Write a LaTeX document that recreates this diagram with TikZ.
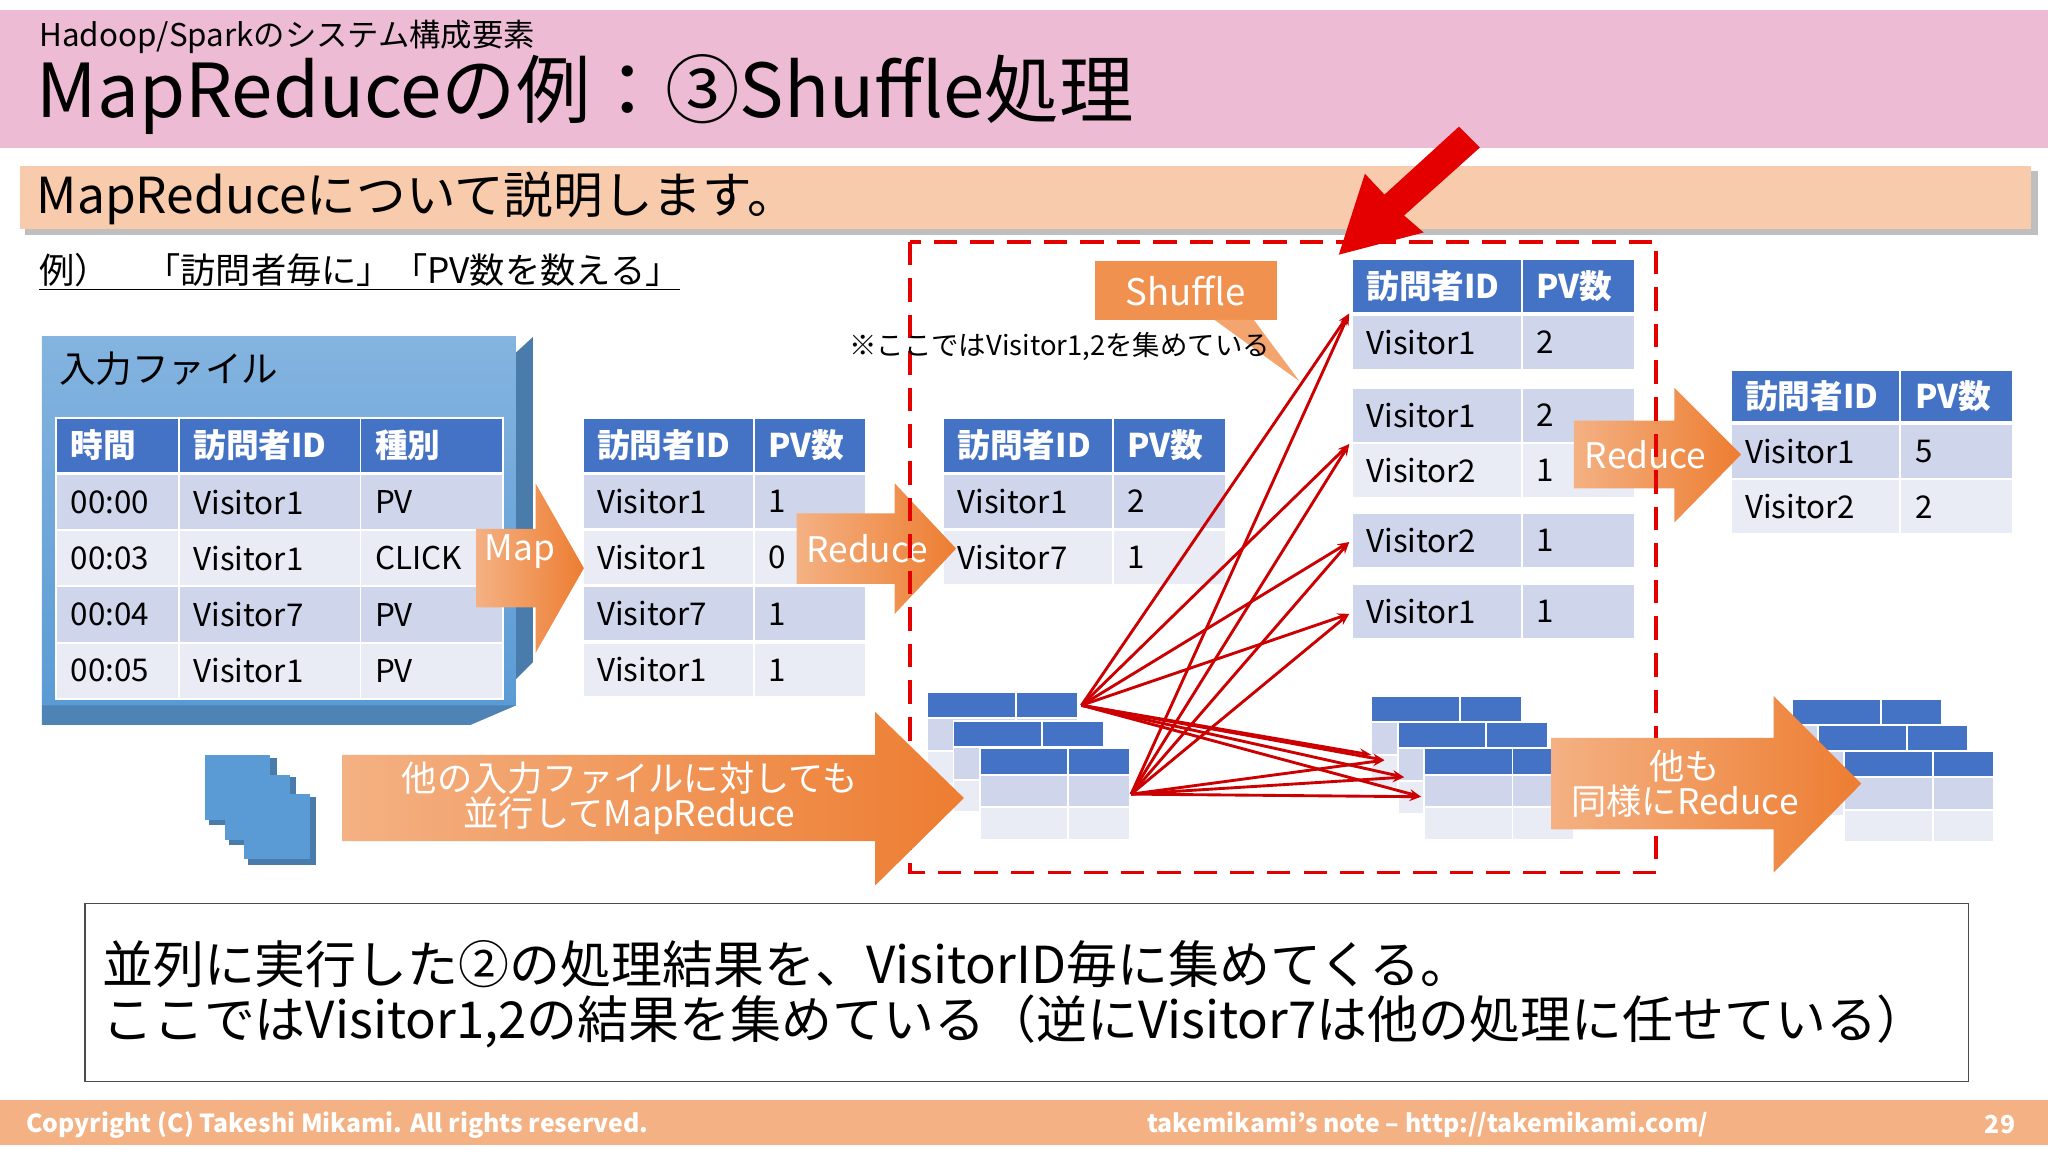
\documentclass[tikz,border=0pt]{standalone}
\usepackage{fontspec}
\setmainfont{Noto Sans CJK JP}
\usetikzlibrary{arrows.meta}
\definecolor{hdr}{HTML}{4472C4}
\definecolor{ra}{HTML}{CFD5EA}
\definecolor{rb}{HTML}{E9EBF5}
\definecolor{org}{HTML}{ED7D31}
\definecolor{pinkb}{HTML}{EDBBD3}
\definecolor{peach}{HTML}{F8CBAD}
\definecolor{foot}{HTML}{F4B183}
\definecolor{bl}{HTML}{5B9BD5}
\newcommand\fs[1]{\fontsize{#1}{#1}\selectfont}
\newcommand\cell[7]{\path[fill=#5,draw=white,line width=1.5pt] (#1,#2) rectangle ++(#3,#4);
 \path (#1,#2) ++(11,#4/2) node[anchor=west,inner sep=0pt,#6] {#7};}
\newcommand\hrow[6]{\cell{#1}{#2}{#3}{42}{hdr}{text=white,font=\fs{25}\bfseries}{#5}\cell{#1+#3}{#2}{#4}{42}{hdr}{text=white,font=\fs{25}\bfseries}{#6}}
\newcommand\brow[7]{\cell{#1}{#2}{#3}{42}{#5}{font=\fs{24}}{#6}\cell{#1+#3}{#2}{#4}{42}{#5}{font=\fs{24}}{#7}}
\newcommand\mini[2]{\fill[hdr] (#1,#2) rectangle ++(115,20);
 \fill[ra] (#1,#2+20) rectangle ++(115,25); \fill[rb] (#1,#2+45) rectangle ++(115,25);
 \draw[white,line width=1.5pt] (#1,#2) rectangle ++(115,70) (#1,#2+20)--++(115,0) (#1,#2+45)--++(115,0) (#1+68,#2)--++(0,70);}
\newcommand\oarrow[7]{% x0 yc hb xh ytop xtip ybot
 \shade[left color=foot,right color=org] (#1,#2-#3)--(#4,#2-#3)--(#4,#5)--(#6,#2)--(#4,#7)--(#4,#2+#3)--(#1,#2+#3)--cycle;}
\begin{document}
\begin{tikzpicture}[x=1pt,y=-1pt,redl/.style={draw=red!80!black,line width=2.2pt,-{Stealth[length=9pt]}}]
\useasboundingbox (0,0) rectangle (1568,882);
\fill[white] (0,0) rectangle (1568,882);
% header
\fill[pinkb] (0,8) rectangle (1568,113);
\node[anchor=west,inner sep=0pt,font=\fs{24}] (sub) at (30,28) {Hadoop/Sparkのシステム構成要素};
\node[anchor=west,inner sep=0pt,font=\fs{57}] (ttl) at (28,72) {MapReduceの例：③Shuffle処理};
\fill[gray!50] (19,131) rectangle (1560,180);
\fill[peach] (15,127) rectangle (1555,175);
\node[anchor=west,inner sep=0pt,font=\fs{38}] (bar) at (28,152) {MapReduceについて説明します。};
\node[anchor=west,inner sep=0pt,font=\fs{27}] (ex) at (30,208) {\underline{例）　「訪問者毎に」「PV数を数える」}};
% input file
\fill[bl!80!black] (360,555)--(408,507)--(408,258)--(395,270)--(395,540)--cycle;
\shade[top color=bl!75,bottom color=bl] (32,258) rectangle (395,540);
\fill[bl!85!black] (32,540)--(395,540)--(360,555)--(32,555)--cycle;
\node[anchor=west,inner sep=0pt,font=\fs{28}] (inp) at (45,282) {入力ファイル};
\cell{43}{320}{94}{42}{hdr}{text=white,font=\fs{25}\bfseries}{時間}
\cell{137}{320}{139}{42}{hdr}{text=white,font=\fs{25}\bfseries}{訪問者ID}
\cell{276}{320}{109}{42}{hdr}{text=white,font=\fs{25}\bfseries}{種別}
\cell{43}{363}{94}{43}{ra}{font=\fs{24}}{00:00}\cell{137}{363}{139}{43}{ra}{font=\fs{24}}{Visitor1}\cell{276}{363}{109}{43}{ra}{font=\fs{24}}{PV}
\cell{43}{406}{94}{43}{rb}{font=\fs{24}}{00:03}\cell{137}{406}{139}{43}{rb}{font=\fs{24}}{Visitor1}\cell{276}{406}{109}{43}{rb}{font=\fs{24}}{CLICK}
\cell{43}{449}{94}{43}{ra}{font=\fs{24}}{00:04}\cell{137}{449}{139}{43}{ra}{font=\fs{24}}{Visitor7}\cell{276}{449}{109}{43}{ra}{font=\fs{24}}{PV}
\cell{43}{492}{94}{43}{rb}{font=\fs{24}}{00:05}\cell{137}{492}{139}{43}{rb}{font=\fs{24}}{Visitor1}\cell{276}{492}{109}{43}{rb}{font=\fs{24}}{PV}
% table2
\hrow{446}{320}{131}{86}{訪問者ID}{PV数}
\brow{446}{363}{131}{86}{ra}{Visitor1}{1}
\brow{446}{406}{131}{86}{rb}{Visitor1}{0}
\brow{446}{449}{131}{86}{ra}{Visitor7}{1}
\brow{446}{492}{131}{86}{rb}{Visitor1}{1}
% map arrow
\oarrow{365}{435}{30}{410}{370}{447}{500}
\node[text=white,font=\fs{27}] (map) at (398,422) {Map};
% table3
\hrow{722}{320}{130}{87}{訪問者ID}{PV数}
\brow{722}{363}{130}{87}{ra}{Visitor1}{2}
\brow{722}{406}{130}{87}{rb}{Visitor7}{1}
\oarrow{610}{420}{27}{685}{370}{732}{470}
\node[text=white,font=\fs{27}] (red1) at (664,420) {Reduce};
% table4
\hrow{1035}{198}{130}{87}{訪問者ID}{PV数}
\brow{1035}{241}{130}{87}{ra}{Visitor1}{2}
\brow{1035}{297}{130}{87}{ra}{Visitor1}{2}
\brow{1035}{339}{130}{87}{rb}{Visitor2}{1}
\brow{1035}{393}{130}{87}{ra}{Visitor2}{1}
\brow{1035}{447}{130}{87}{ra}{Visitor1}{1}
% table5
\cell{1325}{283}{130}{40}{hdr}{text=white,font=\fs{25}\bfseries}{訪問者ID}\cell{1455}{283}{86}{40}{hdr}{text=white,font=\fs{25}\bfseries}{PV数}
\brow{1325}{325}{130}{86}{ra}{Visitor1}{5}
\brow{1325}{367}{130}{86}{rb}{Visitor2}{2}
\oarrow{1205}{348}{26}{1282}{297}{1333}{400}
\node[text=white,font=\fs{27}] (red2) at (1260,348) {Reduce};
% dashed box
\draw[red!90!black,line width=3pt,dash pattern=on 18pt off 10pt] (697,185) rectangle (1268,668);
% shuffle label
\fill[org!85] (838,200) rectangle (978,245);
\fill[org!70] (930,245)--(960,245)--(995,292)--cycle;
\node[text=white,font=\fs{28}] (shf) at (908,223) {Shuffle};
\node[anchor=west,inner sep=0pt,font=\fs{21}] (note) at (650,265) {※ここではVisitor1,2を集めている};
% big red arrow
\fill[red!90!black] (1117,97)--(1133,113)--(1075,165)--(1090,178)--(1025,195)--(1045,133)--(1060,149)--cycle;
% stacks
\mini{710}{530}\mini{730}{552}\mini{750}{573}
\mini{1050}{533}\mini{1070}{553}\mini{1090}{573}
\mini{1372}{535}\mini{1392}{555}\mini{1412}{575}
\coordinate (sA) at (828,540); \coordinate (sB) at (866,608);
\foreach \t in {(1033,240),(1033,340),(1033,415),(1033,470),(1060,582),(1075,595),(1088,610)}{
 \draw[redl] (sA) -- \t; \draw[redl] (sB) -- \t;}
\draw[redl] (sA) -- (1050,578);
% bottom arrows
\oarrow{262}{611}{33}{670}{545}{738}{678}
\node[text=white,font=\fs{27},align=center] (par) at (482,611) {他の入力ファイルに対しても\\並行してMapReduce};
\oarrow{1188}{600}{35}{1358}{533}{1425}{668}
\node[text=white,font=\fs{27},align=center] (oth) at (1290,600) {他も\\同様にReduce};
% blue icon
\foreach \d in {0,15,30}{\fill[bl!80!black] (160+\d,580+\d) rectangle ++(52,52);\fill[bl] (157+\d,578+\d) rectangle ++(50,50);}
% bottom box
\draw[black!70,line width=1pt] (65,692) rectangle (1507,828);
\node[anchor=west,inner sep=0pt,font=\fs{39}] (b1) at (78,738) {並列に実行した②の処理結果を、VisitorID毎に集めてくる。};
\node[anchor=west,inner sep=0pt,font=\fs{39}] (b2) at (78,782) {ここではVisitor1,2の結果を集めている（逆にVisitor7は他の処理に任せている）};
% footer
\fill[foot] (0,842) rectangle (1568,877);
\node[anchor=west,inner sep=0pt,text=white,font=\fs{19}\bfseries] (c1) at (20,861) {Copyright (C) Takeshi Mikami. All rights reserved.};
\node[anchor=west,inner sep=0pt,text=white,font=\fs{19}\bfseries] (c2) at (878,861) {takemikami’s note – http://takemikami.com/};
\node[anchor=east,inner sep=0pt,text=white,font=\fs{19}\bfseries] (c3) at (1543,861) {29};
\end{tikzpicture}
\end{document}
